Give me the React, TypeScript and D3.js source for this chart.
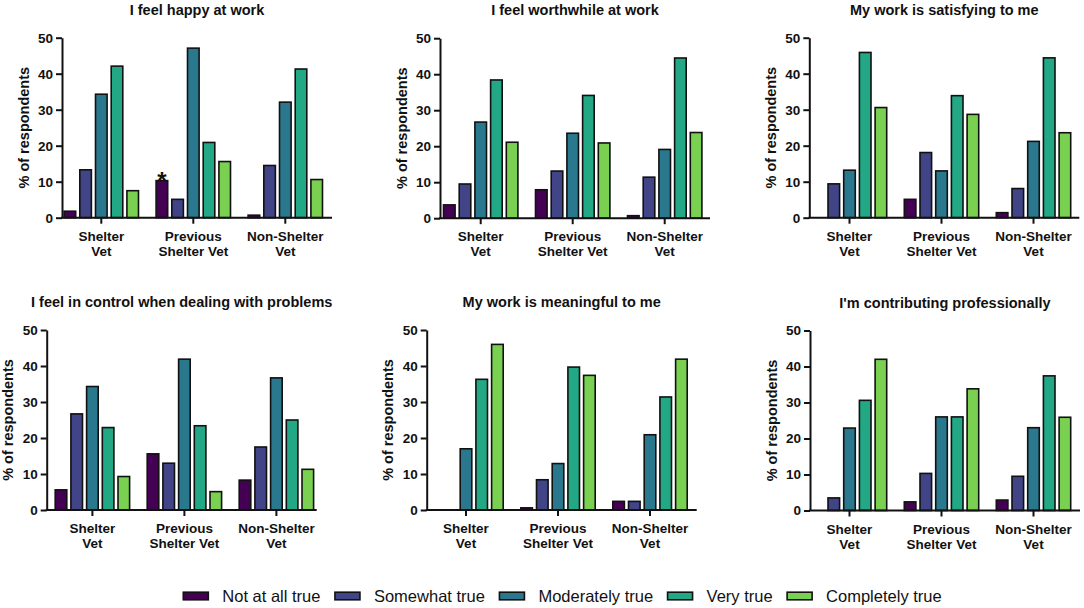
import { useEffect, useRef } from "react";
import * as d3 from "d3";

const WIDTH = 1084;
const HEIGHT = 608;
const FONT = "'Liberation Sans', Arial, Helvetica, sans-serif";

const GROUPS = ["Shelter Vet", "Previous Shelter Vet", "Non-Shelter Vet"];
const GROUP_LINES: Record<string, string[]> = {
  "Shelter Vet": ["Shelter", "Vet"],
  "Previous Shelter Vet": ["Previous", "Shelter Vet"],
  "Non-Shelter Vet": ["Non-Shelter", "Vet"],
};
const RESPONSES = ["Not at all true", "Somewhat true", "Moderately true", "Very true", "Completely true"];
const COLORS = ["#440154", "#414487", "#2a788e", "#22a884", "#7ad151"];
const TITLES = [
  "I feel happy at work",
  "I feel worthwhile at work",
  "My work is satisfying to me",
  "I feel in control when dealing with problems",
  "My work is meaningful to me",
  "I'm contributing professionally",
];
const Y_TICKS = [0, 10, 20, 30, 40, 50];

// % of respondents, one row per group, one value per response
const HAPPY = [
  [1.8, 13.3, 34.3, 42.1, 7.5],
  [10.3, 5.1, 47.1, 20.9, 15.6],
  [0.7, 14.5, 32.1, 41.3, 10.6],
];
const WORTHWHILE = [
  [3.7, 9.5, 26.7, 38.4, 21.1],
  [7.9, 13.1, 23.6, 34.1, 20.9],
  [0.7, 11.4, 19.1, 44.5, 23.8],
];
const SATISFYING = [
  [0, 9.4, 13.2, 45.9, 30.6],
  [5.1, 18.1, 13.0, 33.9, 28.7],
  [1.4, 8.1, 21.2, 44.4, 23.6],
];
const CONTROL = [
  [5.6, 26.7, 34.3, 22.9, 9.3],
  [15.6, 13.0, 41.9, 23.4, 5.1],
  [8.3, 17.5, 36.7, 25.0, 11.3],
];
const MEANINGFUL = [
  [0, 0, 17.0, 36.3, 46.0],
  [0.6, 8.4, 12.9, 39.7, 37.4],
  [2.4, 2.4, 20.9, 31.4, 41.9],
];
const CONTRIBUTING = [
  [0, 3.5, 22.9, 30.6, 42.0],
  [2.4, 10.3, 26.0, 26.0, 33.8],
  [2.9, 9.5, 23.0, 37.4, 25.9],
];
const PANEL_VALUES = [HAPPY, WORTHWHILE, SATISFYING, CONTROL, MEANINGFUL, CONTRIBUTING];

// significance marker
const STARRED = [{ panel: 0, group: "Previous Shelter Vet", response: "Not at all true" }];

// panel frames: x of the y axis, gap before first group, y of the 50% line
const FRAMES = [
  { x: 62, pad: 1.3, top: 37.7 },
  { x: 440, pad: 2.7, top: 38.2 },
  { x: 809.3, pad: 2.2, top: 37.7 },
  { x: 46.7, pad: 7.7, top: 330 },
  { x: 426.7, pad: 1.3, top: 330 },
  { x: 810, pad: 1.5, top: 330.5 },
];
const PLOT_W = 270;
const PLOT_H = 180;
const GROUP_SPAN = 260;
const BAR_STROKE = 1.6;

export default function App() {
  const svgRef = useRef<SVGSVGElement>(null);

  useEffect(() => {
    if (!svgRef.current) return;
    const svg = d3.select(svgRef.current);
    svg.selectAll("*").remove();

    TITLES.forEach((title, pi) => {
      const f = FRAMES[pi];
      const data = PANEL_VALUES[pi];
      const g = svg.append("g");

      const y = d3.scaleLinear().domain([0, 50]).range([f.top + PLOT_H, f.top]);
      const x0 = d3.scaleBand<string>()
        .domain(GROUPS)
        .range([f.x + f.pad, f.x + f.pad + GROUP_SPAN])
        .paddingInner(16 / 92);
      const x1 = d3.scaleBand<string>()
        .domain(RESPONSES)
        .range([0, x0.bandwidth()])
        .paddingInner(0.16);

      // title
      g.append("text")
        .attr("x", f.x + PLOT_W / 2).attr("y", f.top - 23)
        .attr("text-anchor", "middle")
        .attr("font-family", FONT).attr("font-size", "14.5px").attr("font-weight", "700")
        .attr("fill", "#111")
        .text(title);

      // bars
      GROUPS.forEach((grp, gi) => {
        RESPONSES.forEach((resp, ri) => {
          const v = data[gi][ri];
          if (!(v > 0)) return;
          const bx = (x0(grp) ?? 0) + (x1(resp) ?? 0);
          g.append("rect")
            .attr("x", bx + BAR_STROKE / 2)
            .attr("y", y(v))
            .attr("width", x1.bandwidth() - BAR_STROKE)
            .attr("height", y(0) - y(v))
            .attr("fill", COLORS[ri])
            .attr("stroke", "#111")
            .attr("stroke-width", BAR_STROKE);
        });
      });

      // significance asterisks
      STARRED.filter((s) => s.panel === pi).forEach((s) => {
        const gi = GROUPS.indexOf(s.group);
        const ri = RESPONSES.indexOf(s.response);
        const cx = (x0(s.group) ?? 0) + (x1(s.response) ?? 0) + x1.bandwidth() / 2;
        g.append("text")
          .attr("x", cx).attr("y", y(data[gi][ri]) + 8)
          .attr("text-anchor", "middle")
          .attr("font-family", FONT).attr("font-size", "24px").attr("font-weight", "700")
          .attr("fill", "#111")
          .text("*");
      });

      // y axis
      g.append("g")
        .attr("transform", `translate(${f.x},0)`)
        .call(d3.axisLeft(y).tickValues(Y_TICKS).tickSize(6).tickSizeOuter(0).tickPadding(3))
        .call((sel) => {
          sel.select(".domain").attr("stroke", "#111").attr("stroke-width", 2);
          sel.selectAll(".tick line").attr("stroke", "#111").attr("stroke-width", 2);
          sel.selectAll(".tick text")
            .attr("fill", "#111").attr("font-family", FONT)
            .attr("font-size", "13.5px").attr("font-weight", "700");
        });

      // x axis line
      g.append("line")
        .attr("x1", f.x - 1).attr("x2", f.x + PLOT_W)
        .attr("y1", y(0)).attr("y2", y(0))
        .attr("stroke", "#111").attr("stroke-width", 2);

      g.append("g")
        .attr("transform", `translate(0,${y(0)})`)
        .call(d3.axisBottom(x0).tickSize(6).tickSizeOuter(0))
        .call((sel) => {
          sel.select(".domain").remove();
          sel.selectAll(".tick line").attr("stroke", "#111").attr("stroke-width", 2);
          sel.selectAll(".tick text").remove();
        });

      GROUPS.forEach((grp) => {
        const cx = (x0(grp) ?? 0) + x0.bandwidth() / 2;
        const t = g.append("text")
          .attr("text-anchor", "middle")
          .attr("font-family", FONT).attr("font-size", "13.5px").attr("font-weight", "700")
          .attr("fill", "#111");
        GROUP_LINES[grp].forEach((line, li) => {
          t.append("tspan")
            .attr("x", cx)
            .attr("y", y(0) + 23 + li * 15)
            .text(line);
        });
      });

      // y label
      g.append("text")
        .attr("transform", `translate(${f.x - 33.5},${f.top + PLOT_H / 2}) rotate(-90)`)
        .attr("text-anchor", "middle")
        .attr("font-family", FONT).attr("font-size", "14.5px").attr("font-weight", "700")
        .attr("fill", "#111")
        .text("% of respondents");
    });

    // legend, laid out left to right
    const legend = svg.append("g");
    let lx = 183.3;
    const ly = 596;
    RESPONSES.forEach((resp, i) => {
      legend.append("rect")
        .attr("x", lx).attr("y", ly - 3.8)
        .attr("width", 25).attr("height", 7.6)
        .attr("fill", COLORS[i])
        .attr("stroke", "#111").attr("stroke-width", 1.6);
      lx += 25 + 14;
      const t = legend.append("text")
        .attr("x", lx).attr("y", ly + 5.8)
        .attr("font-family", FONT).attr("font-size", "16.5px")
        .attr("fill", "#111")
        .text(resp);
      const w = (t.node() as SVGTextElement).getComputedTextLength();
      lx += w + 14.5;
    });
  }, []);

  return (
    <div style={{ position: "absolute", left: 0, top: 0, background: "#fff" }}>
      <svg ref={svgRef} width={WIDTH} height={HEIGHT} style={{ display: "block" }} />
    </div>
  );
}
